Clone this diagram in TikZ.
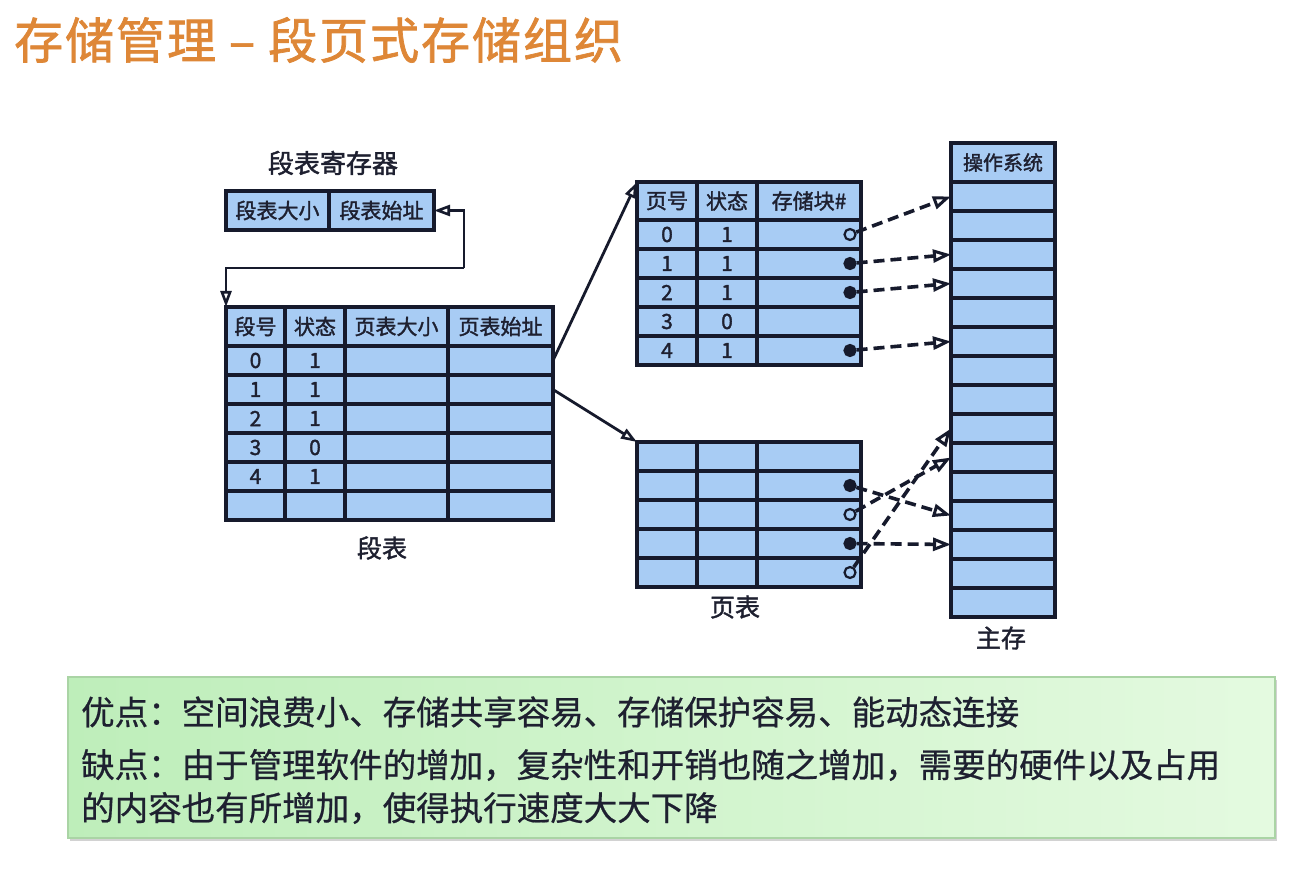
\documentclass[tikz,border=0pt]{standalone}
\usepackage{fontspec}
\newfontfamily\cjk[FakeBold=0.6]{Noto Sans CJK SC}
\newfontfamily\cjkb[FakeBold=1.6]{Noto Sans CJK SC}
\newfontfamily\cjkt[FakeBold=1.4,LetterSpace=4]{Noto Sans CJK SC}
\usetikzlibrary{arrows.meta,shadows}
\definecolor{cellblue}{RGB}{168,204,244}
\definecolor{linec}{RGB}{22,26,44}
\definecolor{txtc}{RGB}{30,32,48}
\definecolor{titlec}{RGB}{222,135,55}
\definecolor{gA}{RGB}{190,238,186}
\definecolor{gB}{RGB}{228,250,224}
\definecolor{gline}{RGB}{170,212,165}
\tikzset{
  cell/.style={draw=linec, fill=cellblue, line width=3.2pt, inner sep=0pt, outer sep=0pt},
  tt/.style={font=\cjkb\fontsize{21}{21}\selectfont, text=txtc, inner sep=0pt},
  lbl/.style={font=\cjkb\fontsize{25}{25}\selectfont, text=txtc, inner sep=0pt},
  btxt/.style={font=\cjk\fontsize{33.5}{33.5}\selectfont, text=txtc, inner sep=0pt, anchor=west},
  sarr/.style={draw=linec, line width=2.8pt, -{Triangle[open,length=16pt,width=11pt,line width=2.6pt]}},
  darr/.style={draw=linec, line width=3.6pt, dash pattern=on 11pt off 6pt, -{Triangle[open,length=18pt,width=13pt,line width=3pt]}},
  fdot/.style={circle, draw=linec, fill=linec, line width=2.2pt, minimum size=11pt, inner sep=0pt},
  odot/.style={circle, draw=linec, fill=cellblue, line width=2.2pt, minimum size=11pt, inner sep=0pt},
  greenbox/.style={draw=gline, line width=1.5pt, left color=gA, right color=gB, inner sep=0pt,
     drop shadow={opacity=0.35, shadow xshift=2pt, shadow yshift=-3pt}},
}
\begin{document}
\begin{tikzpicture}[x=1pt,y=-1pt]
\useasboundingbox[fill=white] (0,0) rectangle (1308,882);

% title
\node[font=\cjkt\fontsize{49}{49}\selectfont, text=titlec, anchor=west, inner sep=0pt] (title) at (14,40) {存储管理 – 段页式存储组织};

% segment table register
\node[lbl, font=\cjkb\fontsize{26}{26}\selectfont] (reglbl) at (333,163) {段表寄存器};
\node[cell, minimum width=103pt, minimum height=39pt] (reg-1) at (277.5,210.5) {};
\node[cell, minimum width=105pt, minimum height=39pt] (reg-2) at (381.5,210.5) {};
\node[tt] at (reg-1) {段表大小};
\node[tt] at (reg-2) {段表始址};

% segment table
\foreach \rr/\ya/\yb in {0/307/346,1/346/375,2/375/404,3/404/433,4/433/462,5/462/491,6/491/520}
  \foreach \cc/\xa/\xb in {1/226/285,2/285/345,3/345/448,4/448/553}
    \node[cell, minimum width={(\xb-\xa)*1pt}, minimum height={(\yb-\ya)*1pt}] (seg-\rr-\cc) at ({(\xa+\xb)/2},{(\ya+\yb)/2}) {};
\foreach \cc/\t in {1/段号,2/状态,3/页表大小,4/页表始址}
  \node[tt] at (seg-0-\cc) {\t};
\foreach \rr/\a/\b in {1/0/1,2/1/1,3/2/1,4/3/0,5/4/1}{
  \node[tt] at (seg-\rr-1) {\a};
  \node[tt] at (seg-\rr-2) {\b};
}
\node[lbl] (seglbl) at (382,548) {段表};

% register connectors
\coordinate (c1) at (464,268);
\coordinate (c2) at (226,268);
\draw[sarr] (c1) |- (reg-2.east);
\draw[sarr] (c1) -- (c2) -- (seg-0-1.north west);

% page table 1
\foreach \rr/\ya/\yb in {0/182/220,1/220/249,2/249/278,3/278/307,4/307/336,5/336/365}
  \foreach \cc/\xa/\xb in {1/637/697,2/697/757,3/757/861}
    \node[cell, minimum width={(\xb-\xa)*1pt}, minimum height={(\yb-\ya)*1pt}] (p1-\rr-\cc) at ({(\xa+\xb)/2},{(\ya+\yb)/2}) {};
\foreach \cc/\t in {1/页号,2/状态,3/存储块\#}
  \node[tt] at (p1-0-\cc) {\t};
\foreach \rr/\a/\b in {1/0/1,2/1/1,3/2/1,4/3/0,5/4/1}{
  \node[tt] at (p1-\rr-1) {\a};
  \node[tt] at (p1-\rr-2) {\b};
}

% page table 2
\foreach \rr/\ya/\yb in {1/442/471,2/471/500,3/500/529,4/529/558,5/558/587}
  \foreach \cc/\xa/\xb in {1/637/697,2/697/757,3/757/861}
    \node[cell, minimum width={(\xb-\xa)*1pt}, minimum height={(\yb-\ya)*1pt}] (p2-\rr-\cc) at ({(\xa+\xb)/2},{(\ya+\yb)/2}) {};
\node[lbl] (p2lbl) at (735,607) {页表};

% main memory
\node[cell, minimum width=104pt, minimum height=39pt] (m-0) at (1003,162.5) {};
\node[tt, font=\cjkb\fontsize{20}{20}\selectfont] at (m-0) {操作系统};
\foreach \k in {1,...,15}
  \node[cell, minimum width=104pt, minimum height=29pt] (m-\k) at (1003,{182+(\k-1)*29+14.5}) {};
\node[lbl] (mlbl) at (1001,638) {主存};

% pointer dots
\node[odot] (d1-1) at (850,234.5) {};
\node[fdot] (d1-2) at (850,263.5) {};
\node[fdot] (d1-3) at (850,292.5) {};
\node[fdot] (d1-5) at (850,350.5) {};
\node[fdot] (d2-2) at (850,485.5) {};
\node[odot] (d2-3) at (850,514.5) {};
\node[fdot] (d2-4) at (850,543.5) {};
\node[odot] (d2-5) at (850,572.5) {};

% dashed mapping arrows
\draw[darr] (d1-1) -- (m-1.west);
\draw[darr] (d1-2) -- (m-3.west);
\draw[darr] (d1-3) -- (m-4.west);
\draw[darr] (d1-5) -- (m-6.west);
\draw[darr] (d2-2) -- (m-12.west);
\draw[darr] (d2-3) -- (m-10.west);
\draw[darr] (d2-4) -- (m-13.west);
\draw[darr] (d2-5) -- (m-9.west);

% segment to page table arrows
\draw[sarr] (seg-1-4.east) -- (p1-0-1.north west);
\draw[sarr] (seg-2-4.east) -- (p2-1-1.north west);

% bottom box
\node[greenbox, minimum width=1207pt, minimum height=161pt] (box) at (671.5,757.5) {};
\node[btxt] (l1) at (81,712) {优点：空间浪费小、存储共享容易、存储保护容易、能动态连接};
\node[btxt] (l2) at (81,765) {缺点：由于管理软件的增加，复杂性和开销也随之增加，需要的硬件以及占用};
\node[btxt] (l3) at (81,808) {的内容也有所增加，使得执行速度大大下降};
\end{tikzpicture}
\end{document}
